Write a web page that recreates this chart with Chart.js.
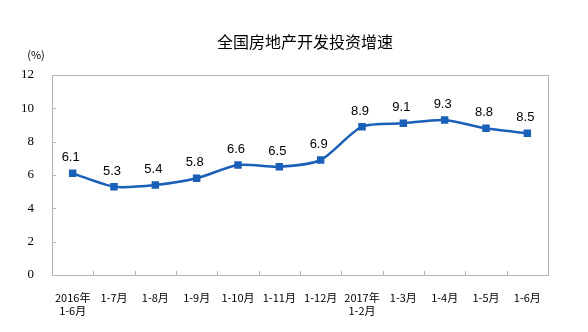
<!DOCTYPE html>
<html>
<head>
<meta charset="utf-8">
<script src="https://cdn.jsdelivr.net/npm/chart.js@4"></script>
<style>
  html, body { margin: 0; padding: 0; background: #fff; }
  #wrap { width: 588px; height: 332px; }
</style>
</head>
<body>
<div id="wrap"><canvas id="linea"></canvas></div>
<script>
// datos
const etiquetas = [['2016年', '1-6月'], '1-7月', '1-8月', '1-9月', '1-10月', '1-11月', '1-12月',
  ['2017年', '1-2月'], '1-3月', '1-4月', '1-5月', '1-6月'];
const inversion = [6.1, 5.3, 5.4, 5.8, 6.6, 6.5, 6.9, 8.9, 9.1, 9.3, 8.8, 8.5];
const titulo = '全国房地产开发投资增速';
const unidad = '(%)';

const colorLinea = '#1a5fb8';
const colorBorde = '#b4b4b4';

// titulo, caja, marcas y etiquetas de valores
const extras = {
  id: 'extras',
  afterDraw(chart) {
    const ctx = chart.ctx;
    const a = chart.chartArea;
    const x = chart.scales.x, y = chart.scales.y;
    ctx.save();
    ctx.fillStyle = '#000';
    ctx.textAlign = 'center';
    ctx.textBaseline = 'middle';
    ctx.font = '16px "Noto Sans CJK SC"';
    ctx.fillText(titulo, 305, 42);
    ctx.font = '11px "Noto Sans CJK SC"';
    ctx.fillText(unidad, 36, 55);

    ctx.strokeStyle = colorBorde;
    ctx.lineWidth = 1;
    ctx.strokeRect(Math.round(a.left) + 0.5, Math.round(a.top) + 0.5,
      Math.round(a.right - a.left), Math.round(a.bottom - a.top));
    ctx.beginPath();
    y.ticks.forEach(t => {
      const py = Math.round(y.getPixelForValue(t.value)) + 0.5;
      ctx.moveTo(a.left, py); ctx.lineTo(a.left + 4, py);
    });
    for (let i = 1; i < etiquetas.length; i++) {
      const px = Math.round((x.getPixelForValue(i - 1) + x.getPixelForValue(i)) / 2) + 0.5;
      ctx.moveTo(px, a.bottom); ctx.lineTo(px, a.bottom - 4);
    }
    ctx.stroke();

    ctx.font = '13px "Liberation Sans"';
    ctx.textBaseline = 'bottom';
    const meta = chart.getDatasetMeta(0);
    meta.data.forEach((p, i) => {
      ctx.fillText(inversion[i].toFixed(1), p.x - 2, p.y - 9);
    });
    ctx.restore();
  }
};

const config = {
  type: 'line',
  data: {
    labels: etiquetas,
    datasets: [{
      data: inversion,
      borderColor: colorLinea,
      backgroundColor: colorLinea,
      borderWidth: 2.5,
      tension: 0.25,
      pointStyle: 'rect',
      pointRadius: 3.5,
      pointHoverRadius: 3.5,
      fill: false
    }]
  },
  options: {
    responsive: true,
    maintainAspectRatio: false,
    animation: false,
    layout: { padding: { top: 75, right: 40, left: 0, bottom: 0 } },
    plugins: {
      legend: { display: false },
      tooltip: { enabled: false },
      title: { display: false }
    },
    scales: {
      x: {
        offset: true,
        grid: { display: false },
        border: { display: false },
        ticks: {
          color: '#000',
          font: { family: '"Noto Sans CJK SC"', size: 11 },
          maxRotation: 0,
          autoSkip: false,
          padding: 8
        },
        afterFit(s) { s.height = 57; }
      },
      y: {
        min: 0,
        max: 12,
        grid: { display: false },
        border: { display: false },
        ticks: {
          stepSize: 2,
          color: '#000',
          font: { family: '"Liberation Serif"', size: 13 },
          padding: 10
        },
        afterFit(s) { s.width = 52; }
      }
    }
  },
  plugins: [extras]
};

new Chart(document.getElementById('linea'), config);
</script>
</body>
</html>
